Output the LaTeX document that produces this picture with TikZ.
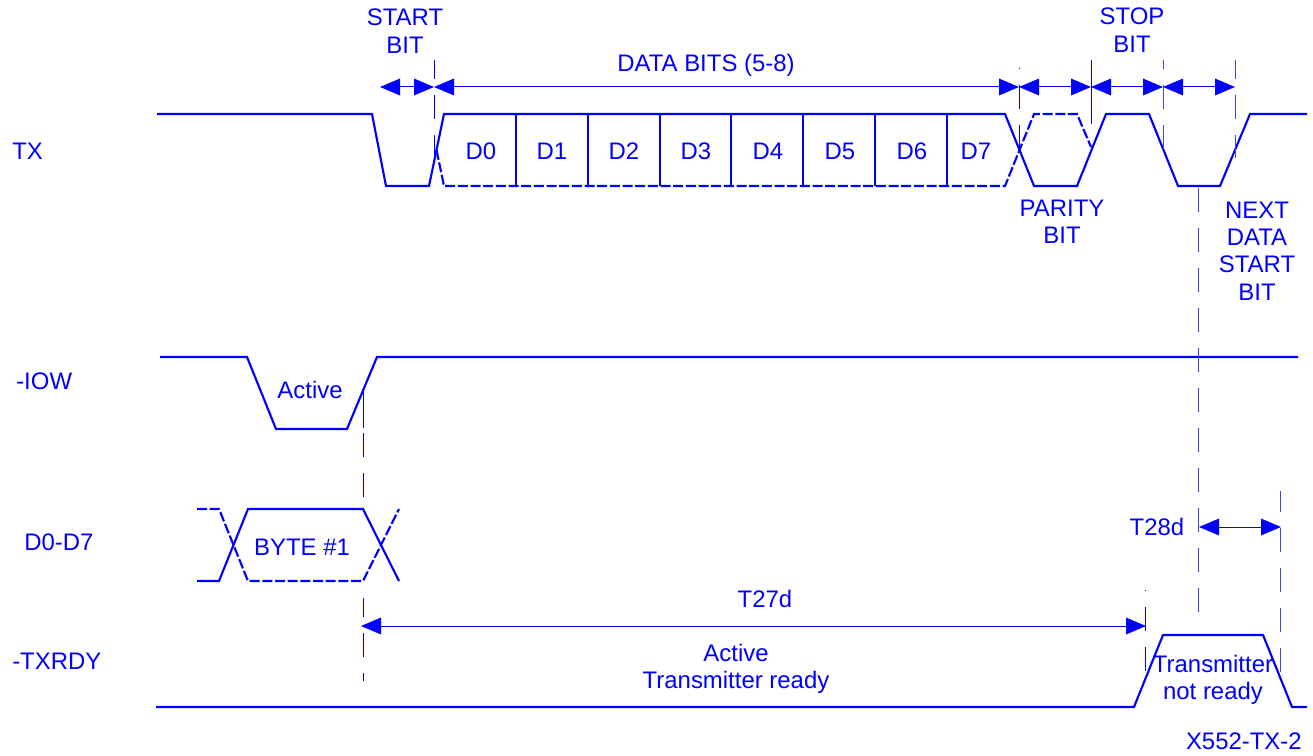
\documentclass[tikz,border=0pt]{standalone}
\usepackage{fontspec}
\setmainfont{Liberation Sans}
\usetikzlibrary{arrows.meta}
\tikzset{
	signal/.style   = {draw=blue, line width=1.6pt, line join=miter},
	hidden/.style   = {signal, dash pattern=on 7.5pt off 2pt},
	guide/.style    = {draw=blue, line width=0.75pt, dash pattern=on 18pt off 12pt},
	guidepale/.style = {guide, draw=blue!75},
	span/.style     = {draw=blue, line width=0.75pt,
		{Triangle[length=15pt,width=12.5pt]}-{Triangle[length=15pt,width=12.5pt]}},
	label/.style    = {text=blue, inner sep=0pt, align=center,
		font=\fontsize{17.95}{20.6}\selectfont},
	rowname/.style  = {label, anchor=west}
}

\begin{document}
\begin{tikzpicture}[x=0.75pt,y=-0.75pt]
	\useasboundingbox (0,0) rectangle (1313,756);

	\coordinate (g1) at (380,87);
	\coordinate (g2) at (434,87);
	\coordinate (g3) at (1019,87);
	\coordinate (g4) at (1091,87);
	\coordinate (g5) at (1163,87);
	\coordinate (g6) at (1235,87);
	\coordinate (t27a) at (361,626);
	\coordinate (t27b) at (1146,626);
	\coordinate (t28a) at (1199,527);
	\coordinate (t28b) at (1281,527);

	\draw[signal] (157,114) -- (372,114) -- (386,186) -- (429,186) -- (444,114)
		-- (1005,114) -- (1034,186) -- (1077,186) -- (1106,114) -- (1149,114)
		-- (1178,186) -- (1220,186) -- (1250,114) -- (1307,114);
	\draw[hidden] (436.5,150) -- (444,186) -- (1005,186) -- (1034,114)
		-- (1077,114) -- (1091,147);
	\foreach \x in {516,588,660,731,803,875,947}
		\draw[signal] (\x,114) -- (\x,186);
	\foreach \i/\x in {0/481,1/552,2/624,3/696,4/768,5/840,6/912,7/976}
		\node[label, anchor=base] (D\i) at (\x,160) {D\i};

	\draw[signal] (160,357) -- (247,357) -- (276,429) -- (347,429) -- (377,357) -- (1298,357);

	\draw[signal] (197,581) -- (219,581) -- (248,509) -- (363,509) -- (399,581);
	\draw[hidden] (197,509) -- (219,509) -- (248,581) -- (363,581) -- (399,509);

	\draw[signal] (156,707) -- (1134,707) -- (1163,635) -- (1263,635) -- (1292,707) -- (1307,707);

	\draw[guide, dash phase=3.75pt] (434,60) -- (434,158);
	\draw[guide, dash phase=17.25pt] (1019,68) -- (1019,149);
	\draw[guide, dash pattern=on 47pt off 0pt] (1091,60) -- (1091,123);
	\draw[guidepale, dash phase=11.25pt] (1163,60) -- (1163,149);
	\draw[guidepale, dash phase=3.75pt] (1235,60) -- (1235,158);
	\draw[guidepale] (1198,188) -- (1198,612);
	\draw[guidepale, dash phase=2.25pt] (1280,491) -- (1280,672);
	\draw[guide, dash pattern=on 27pt off 4pt on 18pt off 12pt on 18pt] (363,392) -- (363,497);
	\draw[guide, dash phase=3.75pt] (363,598) -- (363,681);
	\draw[guide, dash phase=17.25pt] (1145,590) -- (1145,671);

	\draw[span] (g1) -- (g2);
	\draw[span] (g2) -- (g3);
	\draw[span] (g3) -- (g4);
	\draw[span] (g4) -- (g5);
	\draw[span] (g5) -- (g6);
	\draw[span] (t27a) -- (t27b);
	\draw[span] (t28a) -- (t28b);

	\node[rowname] (tx) at (12,151) {TX};
	\node[rowname] (iow) at (16,381) {-IOW};
	\node[rowname] (data) at (24,542) {D0-D7};
	\node[rowname] (txrdy) at (12,661) {-TXRDY};

	\node[label] (startbit) at (405,31) {START\\BIT};
	\node[label] (databits) at (706,65.5) {DATA BITS (5-8)};
	\node[label] (stopbit) at (1132,30) {STOP\\BIT};
	\node[label] (paritybit) at (1062,222) {PARITY\\BIT};
	\node[label] (nextbit) at (1257,251) {NEXT\\DATA\\START\\BIT};
	\node[label] (iowactive) at (310,390) {Active};
	\node[label] (byte) at (302,547) {BYTE \#1};
	\node[label] (t27d) at (765,599) {T27d};
	\node[label] (t28d) at (1157,527) {T28d};
	\node[label] (ready) at (736,669) {Active\\Transmitter ready};
	\node[label] (notready) at (1213,680) {Transmitter\\not ready};
	\node[label, anchor=east] (figid) at (1302,741) {X552-TX-2};
\end{tikzpicture}
\end{document}
